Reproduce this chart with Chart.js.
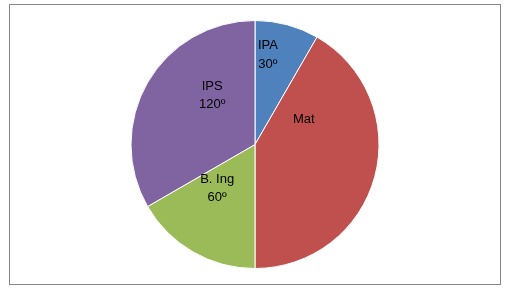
<!DOCTYPE html>
<html>
<head>
<meta charset="utf-8">
<script src="https://cdn.jsdelivr.net/npm/chart.js@4.4.1/dist/chart.umd.min.js"></script>
<style>
  html, body { margin: 0; padding: 0; background: #fff; }
  #wrap { position: relative; width: 510px; height: 290px; }
</style>
</head>
<body>
<div id="wrap"><canvas id="pie"></canvas></div>
<script>
// Subjects and their angles (degrees)
const subjects = ['IPA', 'Mat', 'B. Ing', 'IPS'];
const degrees = [30, 150, 60, 120];
const showValue = [true, false, true, true];
const colors = ['#4F81BD', '#C0504D', '#9BBB59', '#8064A2'];

// label offsets from the pie centre, as fraction of radius
const labelOffsets = [[0.104, -0.723], [0.394, -0.2], [-0.305, 0.353], [-0.345, -0.394]];

const framePlugin = {
  id: 'frame',
  beforeDraw(chart) {
    const ctx = chart.ctx;
    ctx.save();
    ctx.fillStyle = '#fff';
    ctx.fillRect(0, 0, chart.width, chart.height);
    ctx.strokeStyle = '#868686';
    ctx.lineWidth = 1;
    ctx.strokeRect(9.5, 4.5, 491, 280);
    ctx.restore();
  }
};

const labelPlugin = {
  id: 'sliceLabels',
  afterDatasetsDraw(chart) {
    const ctx = chart.ctx;
    const meta = chart.getDatasetMeta(0);
    ctx.save();
    ctx.font = '13px "Liberation Sans", Arial, sans-serif';
    ctx.fillStyle = '#000';
    ctx.textAlign = 'center';
    ctx.textBaseline = 'middle';
    meta.data.forEach((arc, i) => {
      const r = arc.outerRadius;
      const cx = arc.x + labelOffsets[i][0] * r;
      const cy = arc.y + labelOffsets[i][1] * r;
      const lines = [subjects[i]];
      if (showValue[i]) lines.push(degrees[i] + '\u00BA');
      const lh = 18.5;
      lines.forEach((t, j) => {
        ctx.fillText(t, cx, cy + (j - (lines.length - 1) / 2) * lh);
      });
    });
    ctx.restore();
  }
};

new Chart(document.getElementById('pie'), {
  type: 'pie',
  data: {
    labels: subjects,
    datasets: [{
      data: degrees,
      backgroundColor: colors,
      borderColor: '#ffffff',
      borderWidth: 1
    }]
  },
  options: {
    responsive: true,
    maintainAspectRatio: false,
    animation: false,
    layout: { padding: { top: 20, bottom: 21 } },
    plugins: {
      legend: { display: false },
      tooltip: { enabled: false }
    }
  },
  plugins: [framePlugin, labelPlugin]
});
</script>
</body>
</html>
